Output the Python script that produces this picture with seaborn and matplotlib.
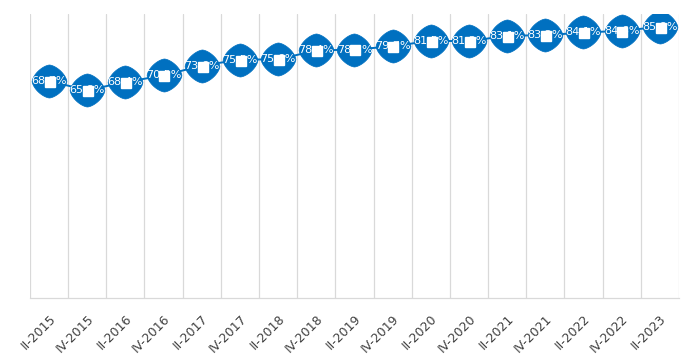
import numpy as np
import pandas as pd
import matplotlib
matplotlib.use("Agg")
import matplotlib.pyplot as plt
import seaborn as sns
from matplotlib.path import Path

# --- data ---
periods = ["II-2015", "IV-2015", "II-2016", "IV-2016", "II-2017", "IV-2017",
           "II-2018", "IV-2018", "II-2019", "IV-2019", "II-2020", "IV-2020",
           "II-2021", "IV-2021", "II-2022", "IV-2022", "II-2023"]
share = [68.7, 65.8, 68.4, 70.5, 73.6, 75.5, 75.6, 78.4, 78.7, 79.7,
         81.5, 81.3, 83.1, 83.2, 84.1, 84.6, 85.9]

df = pd.DataFrame({"period": periods, "share": share})
df["pos"] = np.arange(len(df))

blue = "#0070C0"

# rounded rhombus marker (superellipse)
t = np.linspace(0, 2 * np.pi, 120)
p = 1.55
bx = np.sign(np.cos(t)) * np.abs(np.cos(t)) ** (2 / p)
by = 0.95 * np.sign(np.sin(t)) * np.abs(np.sin(t)) ** (2 / p)
blob = Path(np.column_stack([bx, by]), closed=True)

sns.set_theme(style="white")
plt.rcParams["font.family"] = ["DejaVu Sans"]

fig = plt.figure(figsize=(6.94, 3.64), dpi=100)
ax = fig.add_axes([0.0432, 0.181, 0.935, 0.781])

# band separators
for b in np.arange(-0.5, len(df), 1.0):
    ax.axvline(b, color="#d9d9d9", lw=0.9, zorder=0)

sns.lineplot(data=df, x="pos", y="share", color=blue, lw=1.4, ax=ax, zorder=2)

ax.plot(df["pos"], df["share"], ls="none", marker=blob, ms=25,
        mfc=blue, mec=blue, mew=0.5, zorder=3)

for x, y in zip(df["pos"], df["share"]):
    ax.text(x, y, f"{y:.1f}%", ha="center", va="center", color="white",
            fontsize=8, zorder=4)

# small white icon square over each label
ax.plot(df["pos"] + 0.02, df["share"] - 0.3, ls="none", marker="s", ms=7,
        mfc="white", mec="white", zorder=5)

ax.set_xlim(-0.5, len(df) - 0.5)
ax.set_ylim(0, 90)
ax.set_yticks([])
ax.set_xticks(df["pos"])
ax.set_xticklabels(df["period"], rotation=45, ha="right",
                   rotation_mode="anchor", fontsize=9, color="#404040")
ax.tick_params(axis="x", length=0, pad=10)
ax.set_xlabel("")
ax.set_ylabel("")

for s in ["top", "left", "right"]:
    ax.spines[s].set_visible(False)
ax.spines["bottom"].set_color("#d9d9d9")
ax.spines["bottom"].set_linewidth(0.9)

fig.savefig("out.png", dpi=100)
